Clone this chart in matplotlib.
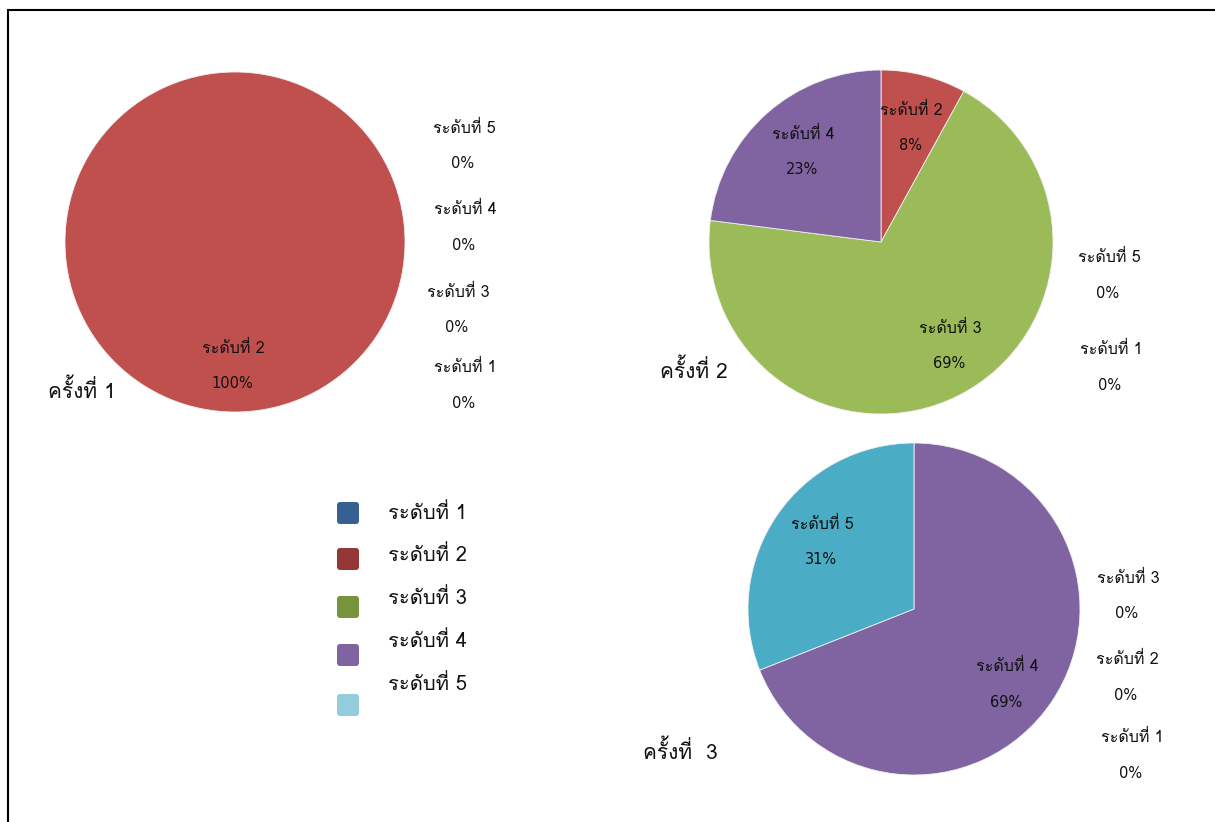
import matplotlib
matplotlib.use("Agg")
import matplotlib.pyplot as plt
from matplotlib import font_manager
from matplotlib.ft2font import FT2Font
from matplotlib.patches import FancyBboxPatch, Rectangle

# ---------------- data ----------------
categories = ["ระดับที่ 1", "ระดับที่ 2", "ระดับที่ 3", "ระดับที่ 4", "ระดับที่ 5"]
round1 = [0, 100, 0, 0, 0]
round2 = [0, 8, 69, 23, 0]
round3 = [0, 0, 0, 69, 31]
titles = ["ครั้งที่ 1", "ครั้งที่ 2", "ครั้งที่  3"]
pie_colors = ["#4F81BD", "#C0504D", "#9BBB59", "#8064A2", "#4BACC6"]
legend_colors = ["#376092", "#953735", "#77933C", "#8064A2", "#93CDDD"]

# ---------------- font detection ----------------
thai_names = []
for f in font_manager.fontManager.ttflist:
    try:
        ft = FT2Font(f.fname)
        if ft.get_char_index(ord("ร")) and ft.get_char_index(ord("ั")):
            if f.name not in thai_names:
                thai_names.append(f.name)
    except Exception:
        pass
main_thai = "Loma" if "Loma" in thai_names else (thai_names[0] if thai_names else "DejaVu Sans")
big_fam = [main_thai, "DejaVu Sans"]
small_fam = ["DejaVu Sans", main_thai]
plt.rcParams["font.family"] = big_fam

W, H = 1215, 822
fig = plt.figure(figsize=(W / 100, H / 100), dpi=100)
ax = fig.add_axes([0, 0, 1, 1])

def Y(y):
    return H - y

# pie layout: center, radius
pies = [
    (round1, (235, 242), 170),
    (round2, (881, 242), 172),
    (round3, (914, 609), 166),
]
for vals, (cx, cy), r in pies:
    nz = [(v, c) for v, c in zip(vals, pie_colors) if v > 0]
    ax.pie([v for v, _ in nz], colors=[c for _, c in nz], center=(cx, Y(cy)),
           radius=r, startangle=90, counterclock=False,
           wedgeprops=dict(edgecolor="#f0f0f0", linewidth=0.6), frame=True)
ax.set_xlim(0, W)
ax.set_ylim(0, H)
ax.set_aspect("equal")
ax.axis("off")

# border
ax.add_patch(Rectangle((8, -5), W, Y(10) + 5, fill=False,
                       edgecolor="black", linewidth=1.5))

# label positions (category index -> (x, y of name line))
label_pos = [
    {1: (233, 349), 4: (464, 129), 3: (465, 210), 2: (458, 293), 0: (465, 368)},
    {1: (911, 111), 3: (803, 135), 2: (950, 329), 4: (1109, 258), 0: (1111, 350)},
    {4: (822, 525), 3: (1007, 667), 2: (1128, 579), 1: (1127, 660), 0: (1132, 738)},
]
data_rounds = [round1, round2, round3]
for vals, pos in zip(data_rounds, label_pos):
    for i, (x, y) in pos.items():
        ax.text(x, Y(y), categories[i], ha="center", va="center", fontsize=11.5,
                color="#111111", family=big_fam)
        ax.text(x - 1, Y(y + 35), f"{vals[i]}%", ha="center", va="center",
                fontsize=10.5, color="#111111", family=small_fam)

# titles
title_pos = [(48, 390), (660, 370), (643, 751)]
for t, (x, y) in zip(titles, title_pos):
    ax.text(x, Y(y), t, ha="left", va="center", fontsize=15, color="#111111")

# legend
sq_y = [513, 559, 607, 655, 705]
tx_y = [513, 555, 598, 641, 684]
for i in range(5):
    ax.add_patch(FancyBboxPatch((337, Y(sq_y[i]) - 11), 22, 22,
                                boxstyle="round,pad=0,rounding_size=3",
                                facecolor=legend_colors[i], edgecolor="none"))
    ax.text(388, Y(tx_y[i]), categories[i], ha="left", va="center",
            fontsize=14.5, color="#111111")

fig.savefig("out.png", dpi=100)
